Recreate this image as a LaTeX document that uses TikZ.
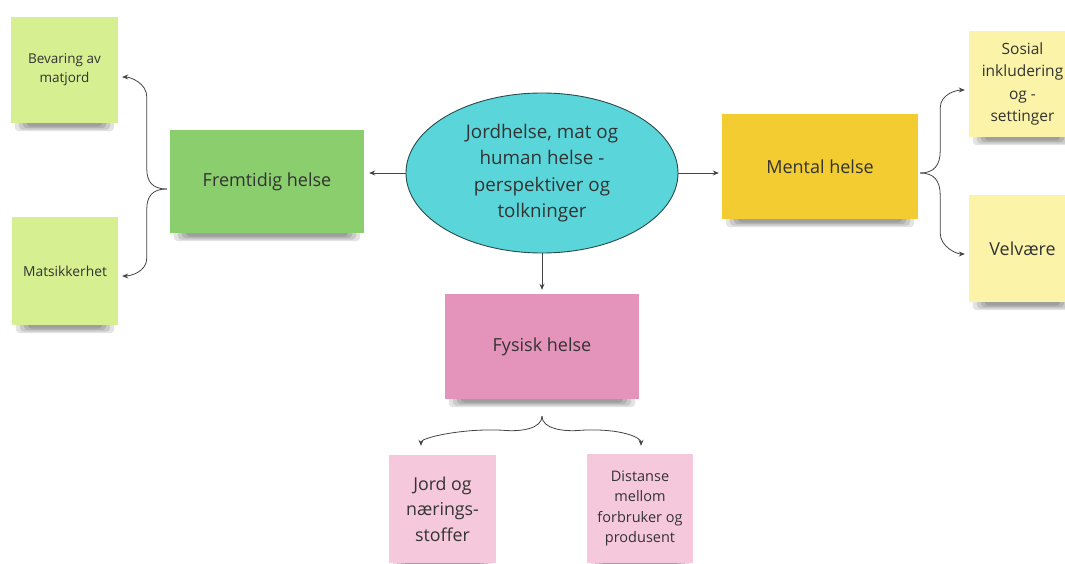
\documentclass[tikz,border=0pt]{standalone}
\usepackage{fontspec}
\setmainfont{Open Sans}
\usetikzlibrary{arrows.meta,calc,backgrounds,shapes.geometric}
\definecolor{lgreen}{HTML}{D5EF91}
\definecolor{dgreen}{HTML}{8ACE6E}
\definecolor{teal}{HTML}{5AD6DA}
\definecolor{tealline}{HTML}{2B4A4A}
\definecolor{dyellow}{HTML}{F2CC30}
\definecolor{lyellow}{HTML}{FBF3A8}
\definecolor{dpink}{HTML}{E494BA}
\definecolor{lpink}{HTML}{F6C8DC}
\definecolor{txt}{HTML}{333333}
\definecolor{conn}{HTML}{444444}
\tikzset{
  sticky/.style={inner sep=2pt, align=center, text=txt},
  link/.style={draw=conn, line width=0.8pt, -{Stealth[length=6pt,width=5pt]}},
}
\newcommand\stickshadow[1]{%
  \foreach \k in {0,1,2,3}{%
    \fill[black,opacity=0.11,rounded corners=4pt]
      ($(#1.south west)+(4+4*\k,-8)$) rectangle ($(#1.south east)+(-4-4*\k,8-1.5*\k)$);
  }%
}
\begin{document}
\begin{tikzpicture}[x=1pt,y=-1pt]
\useasboundingbox (0,0) rectangle (1065,564);
% nodes
\node[sticky, fill=lgreen, minimum width=107pt, minimum height=106pt, font=\fontsize{13.5}{19}\selectfont] (bev) at (64.5,70) {Bevaring av\\matjord};
\node[sticky, fill=lgreen, minimum width=106pt, minimum height=108pt, font=\fontsize{13.8}{19}\selectfont] (mat) at (65,271) {Matsikkerhet};
\node[sticky, fill=dgreen, minimum width=194pt, minimum height=103pt, font=\fontsize{18}{22}\selectfont] (fh) at (267,181.5) {Fremtidig helse};
\node[ellipse, draw=tealline, line width=0.9pt, fill=teal, minimum width=272pt, minimum height=160pt, inner sep=0pt, align=center, text=txt, font=\fontsize{18.8}{26.3}\selectfont] (el) at (542,173) {Jordhelse, mat og\\human helse -\\perspektiver og\\tolkninger};
\node[sticky, fill=dyellow, minimum width=196pt, minimum height=105pt, font=\fontsize{18}{22}\selectfont] (mh) at (820,166.5) {Mental helse};
\node[sticky, fill=lyellow, minimum width=107pt, minimum height=106pt, font=\fontsize{15.5}{22.3}\selectfont] (sos) at (1022.5,84) {Sosial\\inkludering\\og -\\settinger};
\node[sticky, fill=lyellow, minimum width=107pt, minimum height=107pt, font=\fontsize{17.9}{22}\selectfont] (vel) at (1022.5,248.5) {Velvære};
\node[sticky, fill=dpink, minimum width=194pt, minimum height=105pt, font=\fontsize{18}{22}\selectfont] (fys) at (542,346.5) {Fysisk helse};
\node[sticky, fill=lpink, minimum width=107pt, minimum height=108pt, font=\fontsize{17.8}{25.5}\selectfont] (jord) at (442.5,509) {Jord og\\nærings-\\stoffer};
\node[sticky, fill=lpink, minimum width=106pt, minimum height=109pt, font=\fontsize{14.5}{20.5}\selectfont] (dist) at (640,508.5) {Distanse\\mellom\\forbruker og\\produsent};
% background and shadows
\begin{scope}[on background layer]
  \fill[white] (0,0) rectangle (1065,564);
  \stickshadow{bev}\stickshadow{mat}\stickshadow{fh}\stickshadow{mh}
  \stickshadow{sos}\stickshadow{vel}\stickshadow{fys}\stickshadow{jord}\stickshadow{dist}
\end{scope}
% straight arrows
\draw[link] (el.west) -- ($(el.west -| fh.east)+(5,0)$);
\draw[link] (el.east) -- ($(el.east -| mh.west)+(-3,0)$);
\draw[link] (el.south) -- ($(fys.north)+(0,-4)$);
% left brace
\coordinate (lt) at ($(fh.west)+(-3,7.5)$);
\draw[link] (lt) .. controls +(-15,0) and +(0,12) .. ($(lt)+(-20,-20)$) -- ($(lt)+(-20,-92)$) .. controls +(0,-14) and +(8,0) .. ($(bev.east)+(4,7)$);
\draw[link] (lt) .. controls +(-15,0) and +(0,-12) .. ($(lt)+(-20,20)$) -- ($(lt)+(-20,69)$) .. controls +(0,14) and +(8,0) .. ($(mat.east)+(4,5)$);
% right brace
\coordinate (rt) at ($(mh.east)+(2,6.5)$);
\draw[link] (rt) .. controls +(14,0) and +(0,14) .. ($(rt)+(20,-22)$) -- ($(rt)+(20,-65)$) .. controls +(0,-14) and +(-8,0) .. ($(sos.west)+(-4,6)$);
\draw[link] (rt) .. controls +(14,0) and +(0,-14) .. ($(rt)+(20,22)$) -- ($(rt)+(20,60)$) .. controls +(0,14) and +(-8,0) .. ($(vel.west)+(-4,5.5)$);
% bottom brace
\coordinate (bt) at ($(fys.south)+(0,17)$);
\draw[link] (bt) .. controls +(0,12) and +(20,2) .. ($(bt)+(-40,14)$) .. controls +(-40,-2) and +(0,-8) .. ($(jord.north)+(-21.5,-9)$);
\draw[link] (bt) .. controls +(0,12) and +(-20,2) .. ($(bt)+(40,14)$) .. controls +(40,-2) and +(0,-8) .. ($(dist.north)+(1,-8)$);
\end{tikzpicture}
\end{document}
